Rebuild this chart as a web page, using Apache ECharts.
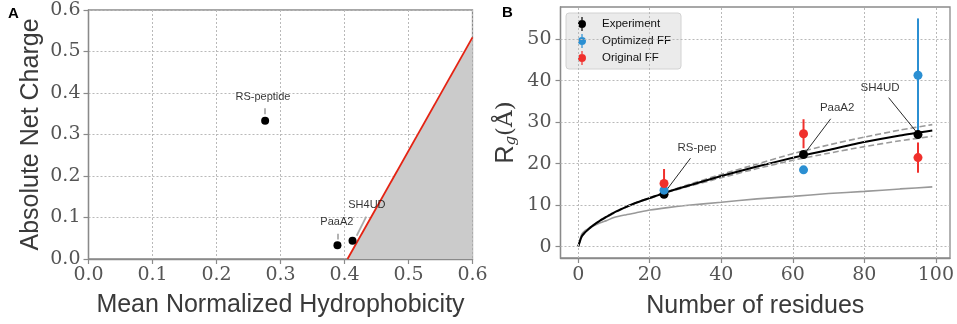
<!DOCTYPE html>
<html>
<head>
<meta charset="utf-8">
<script src="https://cdn.jsdelivr.net/npm/echarts@6/dist/echarts.min.js"></script>
<style>
  html, body { margin: 0; padding: 0; background: #fff; }
  #main { width: 957px; height: 324px; }
</style>
</head>
<body>
<div id="main"></div>
<script>
// panel A: hydrophobicity vs charge
var peptideNames = ['RS-peptide', 'PaaA2', 'SH4UD'];
var hydrophobicity = [0.276, 0.389, 0.4125];
var netCharge = [0.333, 0.033, 0.044];
var boundaryH = [0.4047, 0.6];
var boundaryQ = [0, 0.534];

// panel B: Rg vs number of residues
var residues = [24, 63, 95];
var rgExp = [12.6, 22.2, 27.0];
var rgExpErr = [0.4, 0.4, 0.4];
var rgOpt = [13.6, 18.5, 41.3];
var rgOptErr = [0.3, 0.3, 13.7];
var rgOrig = [15.2, 27.2, 21.45];
var rgOrigErr = [3.5, 3.5, 3.65];
var curveN = [0, 1, 2, 3, 4, 6, 8, 10, 13, 16, 20, 25, 30, 40, 50, 60, 70, 80, 90, 99];
var fitMain = [0, 2.5, 3.5, 4.3, 5.0, 6.2, 7.2, 8.2, 9.4, 10.5, 11.7, 13.2, 14.5, 17.0, 19.3, 21.4, 23.3, 25.2, 26.8, 28.0];
var fitUpper = [0, 2.4, 3.4, 4.2, 4.9, 6.1, 7.1, 8.1, 9.3, 10.5, 11.8, 13.3, 14.7, 17.4, 19.9, 22.4, 24.5, 26.4, 28.1, 29.4];
var fitLower = [0, 2.6, 3.6, 4.4, 5.1, 6.3, 7.3, 8.3, 9.5, 10.5, 11.6, 13.1, 14.3, 16.6, 18.8, 20.8, 22.5, 24.1, 25.5, 26.6];
var fitCompact = [0, 3.0, 3.9, 4.4, 4.9, 5.7, 6.3, 7.0, 7.6, 8.1, 8.8, 9.4, 9.9, 10.7, 11.5, 12.1, 12.8, 13.3, 13.9, 14.4];
var ticksBx = [0, 20, 40, 60, 80, 100];
var ticksBy = [0, 10, 20, 30, 40, 50];

// annotations: label position, arrow start, arrow end (data units)
var notesA = [
  { text: 'RS-peptide', at: [0.2726, 0.3905], from: [0.276, 0.363], to: [0.276, 0.349] },
  { text: 'PaaA2', at: [0.388, 0.0885], from: [0.389, 0.061], to: [0.389, 0.047] },
  { text: 'SH4UD', at: [0.435, 0.129], from: [0.434, 0.102], to: [0.419, 0.056] }
];
var notesB = [
  { text: 'RS-pep', at: [33.2, 23.9], from: [31.4, 21.3], to: [24.5, 13.4] },
  { text: 'PaaA2', at: [72.4, 33.4], from: [70.6, 30.8], to: [63.7, 22.9] },
  { text: 'SH4UD', at: [84.4, 38.3], from: [86.8, 35.9], to: [94.5, 27.7] }
];

var BLUE = '#2b8fd2', RED = '#f0302c', FRAME = '#8a8a8a', GRIDC = '#b9b9b9';
var SANS = 'Liberation Sans', SERIF = 'DejaVu Serif';

function zip(xs, ys) {
  return xs.map(function (x, i) { return [x, ys[i]]; });
}

function errorBars(ys, errs, color, z) {
  return {
    type: 'custom', xAxisIndex: 1, yAxisIndex: 1, z: z, silent: true,
    data: residues.map(function (x, i) { return [x, ys[i] - errs[i], ys[i] + errs[i]]; }),
    renderItem: function (params, api) {
      var lo = api.coord([api.value(0), api.value(1)]);
      var hi = api.coord([api.value(0), api.value(2)]);
      return {
        type: 'line',
        shape: { x1: lo[0], y1: lo[1], x2: hi[0], y2: hi[1] },
        style: { stroke: color, lineWidth: 2 }
      };
    }
  };
}

function notes(list, idx, color, width, arrow) {
  return {
    type: 'scatter', xAxisIndex: idx, yAxisIndex: idx, symbolSize: 0, z: 20, silent: true,
    data: list.map(function (n) { return { name: n.text, value: n.at }; }),
    label: {
      show: true, position: 'inside', formatter: '{b}',
      fontFamily: SANS, fontSize: idx ? 11.5 : 11, color: '#000', textBorderWidth: 0
    },
    markLine: {
      silent: true, animation: false,
      symbol: ['none', arrow ? 'arrow' : 'none'], symbolSize: [0, 6],
      lineStyle: { color: color, width: width, type: 'solid' },
      label: { show: false },
      data: list.map(function (n) { return [{ coord: n.from }, { coord: n.to }]; })
    }
  };
}

function curve(ys, color, width, type, z) {
  return {
    type: 'line', xAxisIndex: 1, yAxisIndex: 1, data: zip(curveN, ys),
    showSymbol: false, smooth: 0.2, z: z, silent: true,
    lineStyle: { color: color, width: width, type: type }
  };
}

var axisBase = {
  axisLine: { show: true, onZero: false, lineStyle: { color: FRAME, width: 1.3 } },
  axisTick: { show: true, length: 5, lineStyle: { color: FRAME, width: 1.2 } },
  splitLine: { show: true, lineStyle: { color: GRIDC, type: [2, 2], width: 1 } },
  nameTextStyle: { fontFamily: SANS, fontSize: 25, color: '#3a3a3a' }
};
function axis(extra) {
  var o = JSON.parse(JSON.stringify(axisBase));
  for (var k in extra) {
    if (o[k] && typeof o[k] === 'object' && !Array.isArray(o[k])) Object.assign(o[k], extra[k]);
    else o[k] = extra[k];
  }
  return o;
}
var labelStyle = { fontFamily: SERIF, fontSize: 19, color: '#555' };

var icon = 'path://M4.4,0H5.6V14H4.4Z M5,3 A4,4 0 1,1 4.99,3Z';

// dotted grid for panel B drawn at its tick values
var gridB = {
  type: 'line', xAxisIndex: 1, yAxisIndex: 1, data: [], silent: true, z: 1,
  markLine: {
    silent: true, animation: false, symbol: 'none', label: { show: false },
    lineStyle: { color: GRIDC, type: [2, 2], width: 1 },
    data: ticksBx.map(function (v) { return { xAxis: v }; })
      .concat(ticksBy.map(function (v) { return { yAxis: v }; }))
  }
};

var chart = echarts.init(document.getElementById('main'), null, { renderer: 'canvas' });
chart.setOption({
  animation: false,
  backgroundColor: '#fff',
  grid: [
    { left: 88.5, top: 10, width: 384, height: 249, show: true, borderColor: FRAME, borderWidth: 1.3 },
    { left: 560.5, top: 7, width: 392.5, height: 256, show: true, borderColor: FRAME, borderWidth: 1.3 }
  ],
  xAxis: [
    axis({
      gridIndex: 0, type: 'value', min: 0, max: 0.6, interval: 0.1,
      name: 'Mean Normalized Hydrophobicity', nameLocation: 'middle', nameGap: 34,
      axisLabel: Object.assign({ margin: 7, showMaxLabel: true, formatter: function (v) { return v.toFixed(1); } }, labelStyle)
    }),
    axis({
      gridIndex: 1, type: 'value', min: -4.95, max: 103.95,
      name: 'Number of residues', nameLocation: 'middle', nameGap: 36,
      axisTick: { customValues: ticksBx },
      splitLine: { show: false },
      axisLabel: Object.assign({ margin: 8, customValues: ticksBx }, labelStyle)
    })
  ],
  yAxis: [
    axis({
      gridIndex: 0, type: 'value', min: 0, max: 0.6, interval: 0.1,
      name: 'Absolute Net Charge', nameLocation: 'middle', nameGap: 45,
      axisLabel: Object.assign({ margin: 8, formatter: function (v) { return v.toFixed(1); } }, labelStyle)
    }),
    axis({
      gridIndex: 1, type: 'value', min: -2.75, max: 57.75,
      name: '{r|R}{g|g}{p|(Å)}', nameLocation: 'middle', nameGap: 42,
      nameTextStyle: {
        rich: {
          r: { fontFamily: SANS, fontSize: 25, color: '#3a3a3a' },
          g: { fontFamily: SERIF, fontStyle: 'italic', fontSize: 15, color: '#3a3a3a', padding: [10, 0, 0, 0] },
          p: { fontFamily: SERIF, fontSize: 23, color: '#3a3a3a' }
        }
      },
      axisTick: { customValues: ticksBy },
      splitLine: { show: false },
      axisLabel: Object.assign({ margin: 9, customValues: ticksBy }, labelStyle)
    })
  ],
  legend: {
    data: ['Experiment', 'Optimized FF', 'Original FF'],
    orient: 'vertical', left: 566, top: 13,
    padding: [4, 10, 4, 12], itemGap: 3, itemWidth: 10, itemHeight: 14,
    backgroundColor: '#ebebeb', borderColor: '#d2d2d2', borderWidth: 1, borderRadius: 3,
    icon: icon,
    textStyle: { fontFamily: SANS, fontSize: 11.5, color: '#111', padding: [0, 0, 0, 10] }
  },
  graphic: [
    { type: 'text', left: 8, top: 6, style: { text: 'A', font: 'bold 15px "Liberation Sans"', fill: '#000' } },
    { type: 'text', left: 502, top: 5, style: { text: 'B', font: 'bold 15px "Liberation Sans"', fill: '#000' } }
  ],
  series: [
    // panel A
    {
      type: 'line', xAxisIndex: 0, yAxisIndex: 0, data: zip(boundaryH, boundaryQ),
      showSymbol: false, silent: true, z: 3,
      lineStyle: { color: '#e52313', width: 1.8 },
      areaStyle: { color: '#cbcbcb', opacity: 1 }
    },
    {
      type: 'scatter', xAxisIndex: 0, yAxisIndex: 0, symbolSize: 8, z: 5,
      itemStyle: { color: '#000', opacity: 1 },
      data: hydrophobicity.map(function (h, i) { return { name: peptideNames[i], value: [h, netCharge[i]] }; })
    },
    notes(notesA, 0, '#ababab', 1.8, false),
    // panel B
    gridB,
    curve(fitCompact, '#999999', 1.6, 'solid', 2),
    curve(fitUpper, '#9a9a9a', 1.6, [6, 3], 3),
    curve(fitLower, '#9a9a9a', 1.6, [6, 3], 3),
    curve(fitMain, '#000000', 2, 'solid', 4),
    errorBars(rgExp, rgExpErr, '#000', 5),
    errorBars(rgOpt, rgOptErr, BLUE, 5),
    errorBars(rgOrig, rgOrigErr, RED, 5),
    {
      name: 'Experiment', type: 'scatter', xAxisIndex: 1, yAxisIndex: 1, symbolSize: 9, z: 6,
      itemStyle: { color: '#000', opacity: 1 }, data: zip(residues, rgExp)
    },
    {
      name: 'Optimized FF', type: 'scatter', xAxisIndex: 1, yAxisIndex: 1, symbolSize: 9, z: 7,
      itemStyle: { color: BLUE, opacity: 1 }, data: zip(residues, rgOpt)
    },
    {
      name: 'Original FF', type: 'scatter', xAxisIndex: 1, yAxisIndex: 1, symbolSize: 9, z: 7,
      itemStyle: { color: RED, opacity: 1 }, data: zip(residues, rgOrig)
    },
    notes(notesB, 1, '#111', 0.9, true)
  ]
});
</script>
</body>
</html>
